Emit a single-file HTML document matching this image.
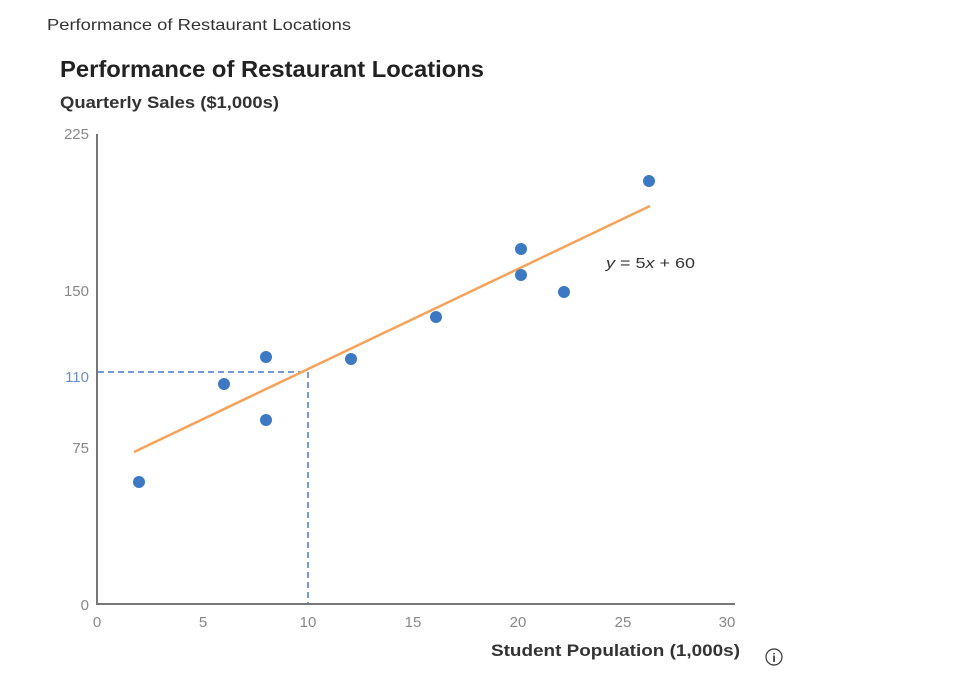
<!DOCTYPE html>
<html><head><meta charset="utf-8"><style>
html,body{margin:0;padding:0;background:#fff;}
body{width:954px;height:680px;overflow:hidden;}
svg text{font-family:"Liberation Sans",sans-serif;}
</style></head><body>
<svg width="954" height="680" viewBox="0 0 954 680" xmlns="http://www.w3.org/2000/svg">
<text x="47" y="30" font-size="16" fill="#333" textLength="304" lengthAdjust="spacingAndGlyphs">Performance of Restaurant Locations</text>
<text x="60" y="77" font-size="23" font-weight="bold" fill="#222" textLength="424" lengthAdjust="spacingAndGlyphs">Performance of Restaurant Locations</text>
<text x="60" y="108" font-size="17" font-weight="bold" fill="#333" textLength="219" lengthAdjust="spacingAndGlyphs">Quarterly Sales ($1,000s)</text>
<g font-size="15" fill="#888" text-anchor="end">
<text x="89" y="139">225</text>
<text x="89" y="296">150</text>
<text x="89" y="382" fill="#6b8fc9">110</text>
<text x="89" y="453">75</text>
<text x="89" y="610">0</text>
</g>
<g font-size="15" fill="#888" text-anchor="middle">
<text x="97" y="627">0</text>
<text x="203" y="627">5</text>
<text x="308" y="627">10</text>
<text x="413" y="627">15</text>
<text x="518" y="627">20</text>
<text x="623" y="627">25</text>
<text x="727" y="627">30</text>
</g>
<text x="491" y="656" font-size="17" font-weight="bold" fill="#333" textLength="249" lengthAdjust="spacingAndGlyphs">Student Population (1,000s)</text>
<circle cx="774" cy="657" r="8" fill="none" stroke="#333" stroke-width="1.2"/>
<text x="774" y="662" font-size="12" font-weight="bold" fill="#333" text-anchor="middle" font-family="Liberation Serif">i</text>
<path d="M97 134V604H735" fill="none" stroke="#777" stroke-width="2"/>
<path d="M98 372H308V604" fill="none" stroke="#4a7cc4" stroke-width="1.5" stroke-dasharray="6,4"/>
<line x1="134" y1="452" x2="650" y2="206" stroke="#f5a25a" stroke-width="2.5"/>
<text x="606" y="268" font-size="15" fill="#333" textLength="89" lengthAdjust="spacingAndGlyphs"><tspan font-style="italic">y</tspan> = 5<tspan font-style="italic">x</tspan> + 60</text>
<g fill="#3d78c2">
<circle cx="139" cy="482" r="6"/>
<circle cx="224" cy="384" r="6"/>
<circle cx="266" cy="357" r="6"/>
<circle cx="266" cy="420" r="6"/>
<circle cx="351" cy="359" r="6"/>
<circle cx="436" cy="317" r="6"/>
<circle cx="521" cy="249" r="6"/>
<circle cx="521" cy="275" r="6"/>
<circle cx="564" cy="292" r="6"/>
<circle cx="649" cy="181" r="6"/>
</g>
</svg>
</body></html>
